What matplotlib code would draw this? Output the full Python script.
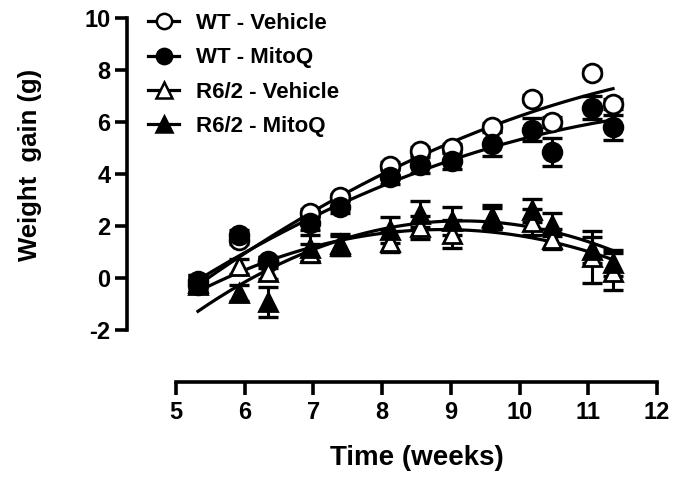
import numpy as np
import matplotlib
matplotlib.use("Agg")
import matplotlib.pyplot as plt
from matplotlib.lines import Line2D

plt.rcParams["font.family"] = ["Liberation Sans", "DejaVu Sans"]
plt.rcParams["font.weight"] = "bold"
plt.rcParams["axes.unicode_minus"] = False

# ---------------------------------------------------------------------------
# Data
# ---------------------------------------------------------------------------
weeks = [5.32, 5.92, 6.34, 6.95, 7.39, 8.11, 8.55, 9.02, 9.6, 10.18, 10.47, 11.05, 11.36]

wt_veh = [-0.25, 1.46, 0.65, 2.5, 3.1, 4.3, 4.9, 5.0, 5.8, 6.9, 6.0, 7.9, 6.7]
wt_veh_err = [0.15, 0.15, 0.15, 0.15, 0.15, 0.15, 0.15, 0.15, 0.15, 0.15, 0.2, 0.15, 0.2]

wt_mito = [-0.1, 1.65, 0.6, 2.1, 2.75, 3.9, 4.35, 4.5, 5.15, 5.7, 4.85, 6.55, 5.8]
wt_mito_err = [0.2, 0.2, 0.2, 0.25, 0.25, 0.3, 0.3, 0.3, 0.45, 0.45, 0.55, 0.45, 0.48]

r62_veh = [-0.2, 0.45, 0.25, 0.95, 1.25, 1.4, 1.95, 1.7, 2.35, 2.15, 1.5, 0.8, 0.25]
r62_veh_err = [0.3, 0.3, 0.3, 0.35, 0.35, 0.4, 0.45, 0.55, 0.45, 0.5, 0.4, 1.0, 0.72]

r62_mito = [-0.25, -0.58, -0.93, 1.15, 1.3, 1.85, 2.45, 2.2, 2.3, 2.6, 2.05, 1.08, 0.58]
r62_mito_err = [0.3, 0.3, 0.58, 0.5, 0.4, 0.5, 0.5, 0.55, 0.4, 0.45, 0.45, 0.5, 0.5]

labels = ["WT - Vehicle", "WT - MitoQ", "R6/2 - Vehicle", "R6/2 - MitoQ"]
markers = ["o", "o", "^", "^"]
faces = ["white", "black", "white", "black"]

x_ticks = [5, 6, 7, 8, 9, 10, 11, 12]
y_ticks = [-2, 0, 2, 4, 6, 8, 10]

# ---------------------------------------------------------------------------
# Figure
# ---------------------------------------------------------------------------
W, H = 691, 479
fig = plt.figure(figsize=(W / 100, H / 100), dpi=100)
ax = fig.add_axes([176 / W, (H - 330) / H, 481 / W, 312 / H])

series = [
    (wt_veh, wt_veh_err),
    (wt_mito, wt_mito_err),
    (r62_veh, r62_veh_err),
    (r62_mito, r62_mito_err),
]
x = np.array(weeks)

# second-order polynomial fit for each group, like the original
xs = np.linspace(x.min(), x.max(), 200)
for ys, _ in series:
    coef = np.polyfit(x, ys, 2)
    ax.plot(xs, np.polyval(coef, xs), color="black", lw=2.3, zorder=2, clip_on=False)

for (ys, err), mk, fc in zip(series, markers, faces):
    ax.errorbar(x, ys, yerr=err, fmt="none", ecolor="black", elinewidth=2.2,
                capsize=7, capthick=2.4, zorder=3, clip_on=False)
    ax.plot(x, ys, ls="none", marker=mk, ms=13.5, mfc=fc, mec="black", mew=2,
            zorder=4, clip_on=False)

ax.set_xlim(5, 12)
ax.set_ylim(-2, 10)
ax.set_xticks(x_ticks)
ax.set_yticks(y_ticks)

for side in ["top", "right"]:
    ax.spines[side].set_visible(False)
ax.spines["left"].set_position(("outward", 35.3))
ax.spines["bottom"].set_position(("outward", 37.4))
for side in ["left", "bottom"]:
    ax.spines[side].set_linewidth(2.6)
ax.tick_params(axis="both", width=2.6, length=9, labelsize=17, pad=3)
ax.tick_params(axis="x", pad=5)
for lab in ax.get_xticklabels() + ax.get_yticklabels():
    lab.set_fontweight("bold")

ax.set_xlabel("Time (weeks)", fontsize=20, fontweight="bold", labelpad=15)
ax.set_ylabel("Weight  gain (g)", fontsize=18.5, fontweight="bold")
ax.yaxis.set_label_coords(42 / W, 1 - 165 / H, transform=fig.transFigure)

handles = [
    Line2D([], [], color="black", lw=2.3, marker=mk, ms=11, mfc=fc, mec="black", mew=1.8)
    for mk, fc in zip(markers, faces)
]
leg = fig.legend(handles, labels, loc="upper left", bbox_to_anchor=(148 / W, 1 - 13 / H),
                 frameon=False, handlelength=1.4, handletextpad=0.75, labelspacing=0.6,
                 prop={"size": 16, "weight": "bold"}, borderpad=0, borderaxespad=0)

fig.savefig("out.png", dpi=100)
